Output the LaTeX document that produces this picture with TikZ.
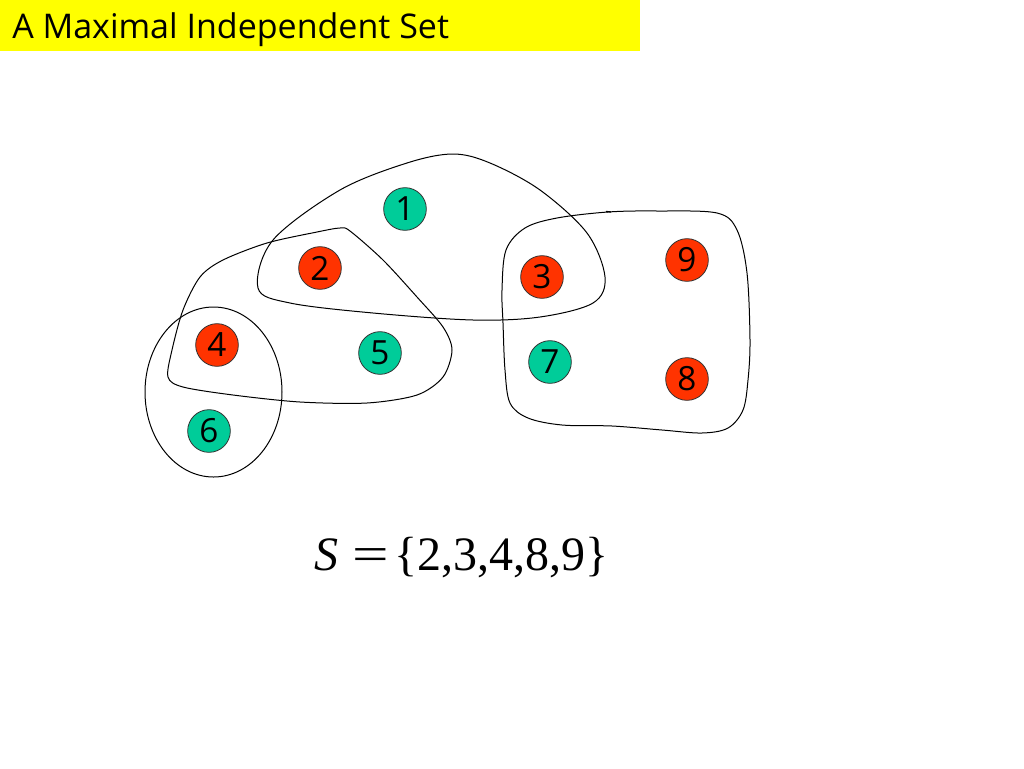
\documentclass[tikz,border=0pt]{standalone}
\usepackage{fontspec}
\setmainfont{Liberation Serif}
\newfontfamily\labelfont{Open Sans}
\definecolor{misred}{RGB}{255,51,0}
\definecolor{misgreen}{RGB}{0,204,153}
\definecolor{titleyellow}{RGB}{255,255,0}
\begin{document}
\begin{tikzpicture}[x=0.75pt,y=-0.75pt,
  vert/.style={circle,draw=black!80,line width=0.6pt,minimum size=32pt,inner sep=0pt,font=\labelfont\fontsize{25}{25}\selectfont},
  redv/.style={vert,fill=misred},
  greenv/.style={vert,fill=misgreen},
  hull/.style={draw=black,line width=0.75pt}]
\useasboundingbox[fill=white] (0,0) rectangle (1024,768);
\fill[titleyellow] (0,0) rectangle (640,51);
\node[anchor=base west,inner sep=0pt,font=\labelfont\fontsize{25.5}{25.5}\selectfont] (title) at (12,38) {A Maximal Independent Set};
% hulls
\draw[hull] plot[smooth cycle,tension=0.55] coordinates {(258,288) (273,240) (340,190) (407,163) (453,154) (490,163) (540,190) (587,233) (605,277) (593,303) (540,317) (473,320) (373,313) (290,303)};
\draw[hull] plot[smooth cycle,tension=0.5] coordinates {(340,228) (350,231) (383,260) (417,297) (443,327) (452,350) (443,377) (417,395) (367,403) (300,402) (233,395) (183,387) (168,377) (172,350) (183,310) (200,277) (223,260) (267,243) (317,232)};
\draw[hull] (213.5,392) ellipse[x radius=68.5,y radius=85];
\draw[hull] plot[smooth cycle,tension=0.55] coordinates {(502,290) (506,250) (525,228) (557,218) (608,212) (657,211) (717,213) (737,230) (747,273) (750,340) (748,380) (743,410) (728,428) (702,433) (662,430) (612,426) (562,425) (528,418) (510,403) (505,370) (503,323)};
\draw[line width=1pt] (606,211.5) -- (611,212);
% vertices
\node[greenv] (v1) at (405,209) {1};
\node[redv] (v2) at (320,268) {2};
\node[redv] (v3) at (542,277) {3};
\node[redv] (v4) at (217,345) {4};
\node[greenv] (v5) at (380,353) {5};
\node[greenv] (v6) at (209,431) {6};
\node[greenv] (v7) at (550,362) {7};
\node[redv] (v8) at (687,379) {8};
\node[redv] (v9) at (687,260) {9};
\node[anchor=base west,font=\fontsize{36}{36}\selectfont,inner sep=0pt] (formula) at (314,570) {\textit{S}\hspace{0.3em}\scalebox{1.35}[1]{=}\hspace{0.1em}\{2,3,4,8,9\}};
\end{tikzpicture}
\end{document}
